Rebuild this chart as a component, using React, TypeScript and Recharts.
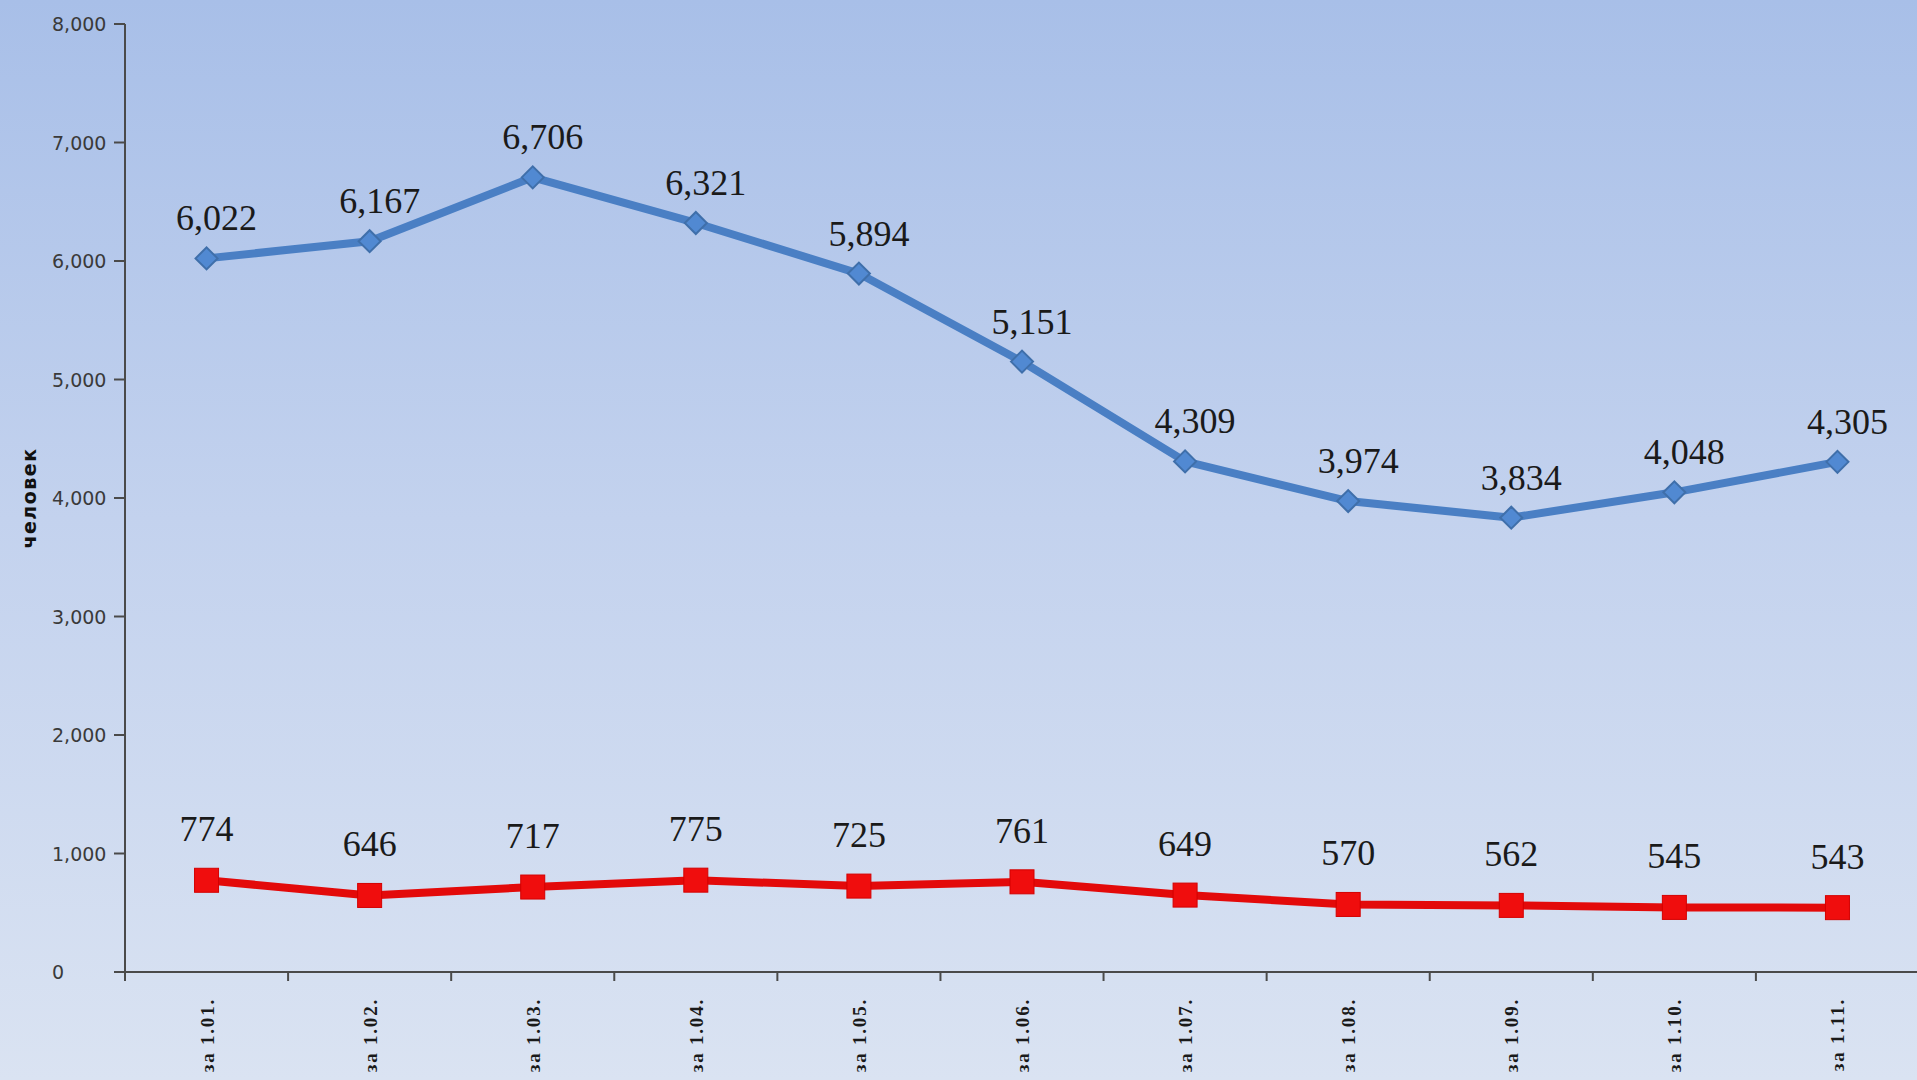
import React from 'react';
import { LineChart, Line, XAxis, YAxis, LabelList } from 'recharts';

const categories = ['за 1.01.', 'за 1.02.', 'за 1.03.', 'за 1.04.', 'за 1.05.', 'за 1.06.', 'за 1.07.', 'за 1.08.', 'за 1.09.', 'за 1.10.', 'за 1.11.'];
const totalValues = [6022, 6167, 6706, 6321, 5894, 5151, 4309, 3974, 3834, 4048, 4305];
const secondValues = [774, 646, 717, 775, 725, 761, 649, 570, 562, 545, 543];
const yTicks = [0, 1000, 2000, 3000, 4000, 5000, 6000, 7000, 8000];
const yTitle = 'человек';

const data = categories.map((c, i) => ({ cat: c, total: totalValues[i], second: secondValues[i] }));

const W = 1919;
const H = 1080;
const Y_AXIS_W = 125;
const X_AXIS_H = 108;
const TOP = 24;
const BAND = (W - Y_AXIS_W) / categories.length;

const fmt = (v: number) => v.toLocaleString('en-US');

const XTick = (props: any) => {
  const { x, y, payload, index } = props;
  const half = BAND / 2;
  return (
    <g>
      <line x1={x - half} x2={x - half} y1={y} y2={y + 9} stroke="#4a4a4a" strokeWidth={2} />
      {index === categories.length - 1 && (
        <line x1={x + half} x2={x + half} y1={y} y2={y + 9} stroke="#4a4a4a" strokeWidth={2} />
      )}
      <text
        x={0}
        y={0}
        transform={`translate(${x + 7},${y + 26}) rotate(-90)`}
        textAnchor="end"
        fontFamily="'Liberation Serif', serif"
        fontWeight="bold"
        fontSize={19}
        letterSpacing={1.8}
        fill="#1a1a1a"
      >
        {payload.value}
      </text>
    </g>
  );
};

const YTick = (props: any) => {
  const { x, y, payload } = props;
  return (
    <g>
      <line x1={x - 11} x2={x} y1={y} y2={y} stroke="#4a4a4a" strokeWidth={2} />
      <text x={52} y={y + 7} textAnchor="start" fontFamily="'DejaVu Sans', sans-serif" fontSize={19} fill="#3a3a3a">
        {fmt(payload.value)}
      </text>
    </g>
  );
};

const YTitle = (props: any) => {
  const cy = TOP + (H - X_AXIS_H - TOP) / 2;
  return (
    <text
      transform={`translate(36,${cy}) rotate(-90)`}
      textAnchor="middle"
      fontFamily="'DejaVu Sans', sans-serif"
      fontWeight="bold"
      fontSize={19}
      letterSpacing={1.5}
      fill="#111"
    >
      {yTitle}
    </text>
  );
};

const Diamond = (props: any) => {
  const { cx, cy, index } = props;
  const r = 11;
  return (
    <polygon
      key={`d-${index}`}
      points={`${cx - r},${cy} ${cx},${cy - r} ${cx + r},${cy} ${cx},${cy + r}`}
      fill="#5189d2"
      stroke="#3f6faa"
      strokeWidth={2}
    />
  );
};

const Square = (props: any) => {
  const { cx, cy, index } = props;
  const r = 12;
  return <rect key={`s-${index}`} x={cx - r} y={cy - r} width={2 * r} height={2 * r} fill="#f00d0d" stroke="#d40000" strokeWidth={1} />;
};

const makeLabel = (dx: number, dy: number) => (props: any) => {
  const { x, y, value, index } = props;
  return (
    <text key={`l-${index}`} x={x + dx} y={y + dy} textAnchor="middle" fontFamily="'Liberation Serif', serif" fontSize={36} fill="#1a1a1a">
      {fmt(value)}
    </text>
  );
};

export default function App() {
  return (
    <div
      style={{
        position: 'absolute',
        left: 0,
        top: 0,
        width: 1917,
        height: 1080,
        overflow: 'hidden',
        background: 'linear-gradient(180deg, #a8bfe8 0%, #c3d2ee 48%, #dae3f2 100%)',
      }}
    >
      <LineChart width={W} height={H} data={data} margin={{ top: TOP, right: 0, bottom: 0, left: 0 }}>
        <XAxis
          dataKey="cat"
          scale="band"
          height={X_AXIS_H}
          axisLine={{ stroke: '#4a4a4a', strokeWidth: 2 }}
          tickLine={false}
          tickSize={0}
          tickMargin={0}
          interval={0}
          tick={<XTick />}
        />
        <YAxis
          width={Y_AXIS_W}
          domain={[0, 8000]}
          ticks={yTicks}
          interval={0}
          axisLine={{ stroke: '#4a4a4a', strokeWidth: 2 }}
          tickLine={false}
          tickSize={0}
          tickMargin={0}
          tick={<YTick />}
          label={<YTitle />}
        />
        <Line
          dataKey="total"
          stroke="#4a7fc4"
          strokeWidth={8}
          strokeLinejoin="round"
          dot={<Diamond />}
          activeDot={false}
          isAnimationActive={false}
        >
          <LabelList dataKey="total" content={makeLabel(10, -28)} />
        </Line>
        <Line
          dataKey="second"
          stroke="#e30a0a"
          strokeWidth={8}
          strokeLinejoin="round"
          dot={<Square />}
          activeDot={false}
          isAnimationActive={false}
        >
          <LabelList dataKey="second" content={makeLabel(0, -39)} />
        </Line>
      </LineChart>
    </div>
  );
}
